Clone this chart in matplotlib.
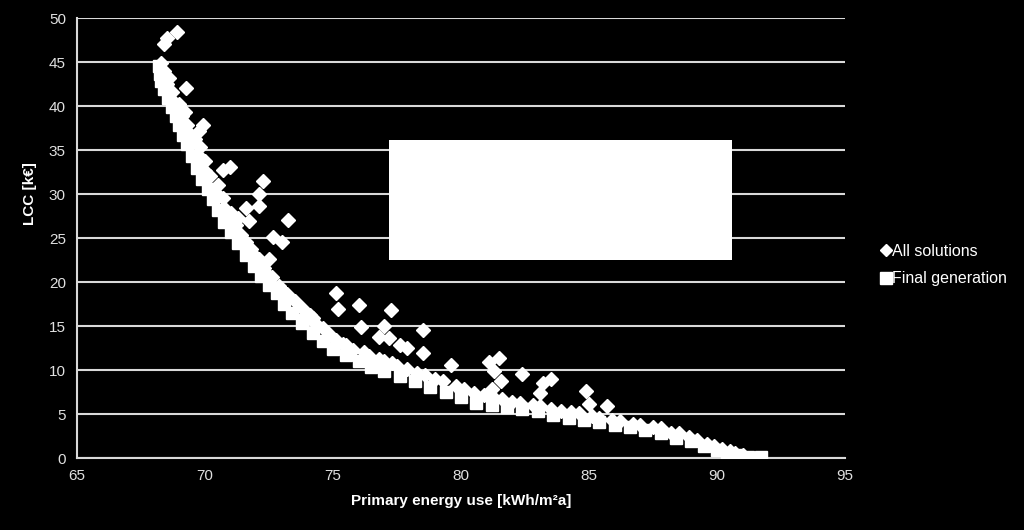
import matplotlib
matplotlib.use("Agg")
import matplotlib.pyplot as plt
from matplotlib.patches import Rectangle

# final generation (pareto front)
fg_x = [68.2, 68.25, 68.3, 68.4, 68.55, 68.7, 68.85, 69.0, 69.15, 69.3,
        69.5, 69.7, 69.9, 70.1, 70.3, 70.5, 70.75, 71.0, 71.3, 71.6,
        71.9, 72.2, 72.5, 72.8, 73.1, 73.4, 73.8, 74.2, 74.6, 75.0,
        75.5, 76.0, 76.5, 77.0, 77.6, 78.2, 78.8, 79.4, 80.0, 80.6,
        81.2, 81.8, 82.4, 83.0, 83.6, 84.2, 84.8, 85.4, 86.0, 86.6,
        87.2, 87.8, 88.4, 89.0, 89.5, 90.0, 90.4, 90.8, 91.2, 91.7]
fg_y = [44.5, 43.6, 42.9, 41.9, 40.9, 39.9, 38.9, 37.8, 36.7, 35.7,
        34.3, 33.0, 31.7, 30.6, 29.4, 28.2, 26.8, 25.7, 24.4, 23.1,
        21.8, 20.7, 19.7, 18.7, 17.5, 16.5, 15.3, 14.2, 13.3, 12.4,
        11.7, 11.0, 10.4, 9.9, 9.3, 8.7, 8.1, 7.5, 6.9, 6.3,
        6.0, 5.8, 5.55, 5.3, 4.9, 4.6, 4.3, 4.1, 3.8, 3.5,
        3.2, 2.8, 2.3, 1.9, 1.4, 0.9, 0.5, 0.3, 0.15, 0.1]

# all evaluated solutions: points along the front plus the dominated ones
all_x = [68.3, 68.5, 68.8, 69.1, 69.4, 69.7, 70.0, 70.4, 70.8, 71.2,
         71.6, 72.1, 72.6, 73.2, 73.8, 74.3, 74.9, 75.5, 76.2, 76.8,
         77.5, 78.3, 79.0, 79.8, 80.5, 81.3, 82.0, 82.8, 83.5, 84.3,
         85.1, 85.9, 86.7, 87.5, 88.2, 88.9, 89.6, 90.2, 90.7,
         68.4, 68.6, 68.7, 69.0, 69.2, 69.3, 69.6, 69.8, 70.0, 70.2,
         70.5, 70.7, 70.9, 71.1, 71.4, 71.8, 72.0, 72.3, 72.4, 72.9,
         73.1, 73.5, 73.9, 74.2, 74.6, 75.1, 75.4, 75.8, 76.4, 77.0,
         77.3, 77.9, 78.6, 79.3, 80.1, 80.9, 81.6, 82.3, 83.1, 83.9,
         84.6, 85.4, 86.2, 87.0, 87.8, 88.5, 89.2, 89.9, 90.5, 91.0,
         68.9, 68.5, 68.4, 69.26, 69.93, 69.78, 70.98, 70.72, 72.28, 72.12,
         71.6, 72.1, 71.0, 71.3, 71.7, 73.25, 72.67, 73.0, 72.5, 75.1,
         75.2, 76.0, 77.25, 74.1, 76.1, 77.0, 76.8, 77.2, 77.6, 77.9,
         78.5, 78.5, 79.6, 81.1, 81.5, 81.3, 82.4, 83.5, 83.2, 81.55,
         81.2, 83.1, 84.9, 85.0, 85.7]
all_y = [44.9, 42.5, 40.5, 38.9, 36.8, 34.5, 32.6, 30.2, 28.3, 26.5,
         24.6, 22.6, 20.6, 18.6, 17.0, 15.4, 14.0, 12.8, 12.0, 11.3,
         10.5, 9.7, 9.0, 8.2, 7.4, 6.8, 6.4, 6.0, 5.6, 5.2,
         4.8, 4.3, 3.9, 3.5, 2.9, 2.4, 1.6, 1.0, 0.6,
         44.0, 43.2, 41.6, 40.2, 39.3, 37.9, 36.2, 35.3, 33.8, 32.1,
         31.0, 29.6, 27.5, 27.0, 25.3, 23.8, 22.9, 21.6, 21.0, 19.6,
         18.9, 17.8, 16.3, 15.9, 14.8, 13.4, 13.0, 12.3, 11.6, 11.0,
         10.8, 10.1, 9.4, 8.7, 7.9, 7.2, 6.7, 6.3, 5.9, 5.4,
         5.1, 4.6, 4.2, 3.8, 3.4, 2.8, 2.1, 1.4, 0.8, 0.4,
         48.4, 47.7, 47.1, 42.0, 37.8, 37.2, 33.1, 32.7, 31.5, 30.0,
         28.4, 28.6, 27.9, 27.3, 26.9, 27.0, 25.1, 24.5, 22.6, 18.8,
         16.9, 17.4, 16.8, 16.2, 14.9, 15.0, 13.8, 13.6, 12.8, 12.5,
         14.5, 11.9, 10.6, 10.9, 11.4, 9.9, 9.5, 9.0, 8.5, 8.7,
         7.9, 7.4, 7.6, 6.1, 5.9]

x_ticks = [65, 70, 75, 80, 85, 90, 95]
y_ticks = [0, 5, 10, 15, 20, 25, 30, 35, 40, 45, 50]

# white box covering the middle of the plot (data coords)
box_xy = (77.2, 22.5)
box_w, box_h = 13.4, 13.6

plt.rcParams["font.family"] = ["Liberation Sans Narrow", "Liberation Sans", "DejaVu Sans"]

fig = plt.figure(figsize=(10.24, 5.3), dpi=100, facecolor="black")
ax = fig.add_axes([0.0752, 0.1358, 0.7500, 0.8302], facecolor="black")

ax.set_xlim(65, 95)
ax.set_ylim(0, 50)
ax.set_xticks(x_ticks)
ax.set_yticks(y_ticks)
ax.grid(True, axis="y", color="#d9d9d9", lw=1.5)
ax.set_axisbelow(True)
for side in ("top", "right"):
    ax.spines[side].set_visible(False)
for side in ("left", "bottom"):
    ax.spines[side].set_color("#d9d9d9")
    ax.spines[side].set_linewidth(1.5)
ax.tick_params(length=0, colors="#e0e0e0", labelsize=11, pad=8)

ax.add_patch(Rectangle(box_xy, box_w, box_h, facecolor="white",
                       edgecolor="none", zorder=4))

ax.plot(all_x, all_y, ls="none", marker="D", ms=7, color="white",
        mec="white", label="All solutions", zorder=3)
ax.plot(fg_x, fg_y, ls="none", marker="s", ms=9, color="white",
        mec="white", label="Final generation", zorder=3)

ax.set_xlabel("Primary energy use [kWh/m²a]", color="white",
              fontsize=11, fontweight="bold", labelpad=8)
ax.set_ylabel("LCC [k€]", color="white", fontsize=11, fontweight="bold")
ax.yaxis.set_label_coords(-0.052, 0.60)

leg = fig.legend(loc="center left", bbox_to_anchor=(0.845, 0.5),
                 frameon=False, handletextpad=0.0, handlelength=0.8,
                 labelspacing=0.8, fontsize=11.5, labelcolor="white")
leg.legend_handles[0].set_markersize(6.5)
leg.legend_handles[1].set_markersize(9)

fig.savefig("out.png", dpi=100, facecolor="black")
